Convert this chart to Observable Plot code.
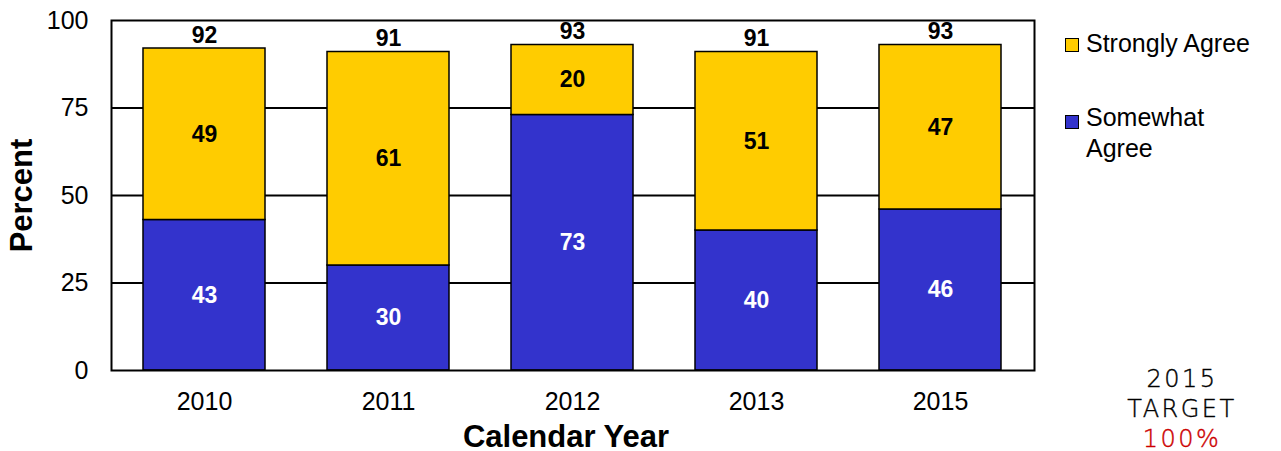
<!DOCTYPE html>
<html>
<head>
<meta charset="utf-8">
<script src="https://cdn.jsdelivr.net/npm/d3@7"></script>
<script src="https://cdn.jsdelivr.net/npm/@observablehq/plot@0.6"></script>
<style>
  html, body { margin: 0; padding: 0; background: #fff; }
  #wrap { position: relative; width: 1281px; height: 451px; overflow: hidden; font-family: "Liberation Sans", Arial, sans-serif; }
  #chart { position: absolute; left: 0; top: 0; }
  .leg { position: absolute; font-size: 25px; line-height: 31px; color: #000; }
  .sw { position: absolute; width: 12px; height: 12px; border: 1.5px solid #000; }
  #target { position: absolute; left: 1102px; width: 160px; top: 364px; text-align: center; font-family: "DejaVu Sans", sans-serif; font-weight: 200; font-size: 24px; line-height: 30px; color: #000; letter-spacing: 2.5px; -webkit-text-stroke: 0.4px #000; }
</style>
</head>
<body>
<div id="wrap">
  <div id="chart"></div>
  <div class="sw" style="left:1065px; top:38px; background:#FFCC00;"></div>
  <div class="leg" style="left:1086px; top:28px;">Strongly Agree</div>
  <div class="sw" style="left:1065px; top:115px; background:#3333CC;"></div>
  <div class="leg" style="left:1086px; top:102px;">Somewhat<br>Agree</div>
  <div id="target">2015<br>TARGET<br><span style="color:#CC0000; -webkit-text-stroke: 0.4px #CC0000;">100%</span></div>
</div>
<script>
const years = ["2010", "2011", "2012", "2013", "2015"];
const somewhatAgree = [43, 30, 73, 40, 46];
const stronglyAgree = [49, 61, 20, 51, 47];
const totals = [92, 91, 93, 91, 93];
const seriesNames = ["Somewhat Agree", "Strongly Agree"];
const seriesColors = ["#3333CC", "#FFCC00"];
const yTicks = [0, 25, 50, 75, 100];

const rows = [];
years.forEach((y, i) => {
  rows.push({year: y, series: seriesNames[0], value: somewhatAgree[i]});
  rows.push({year: y, series: seriesNames[1], value: stronglyAgree[i]});
});
const totalRows = years.map((y, i) => ({year: y, total: totals[i]}));

const chart = Plot.plot({
  width: 1281,
  height: 451,
  marginLeft: 111,
  marginRight: 247,
  marginTop: 20,
  marginBottom: 81,
  style: {fontFamily: "'Liberation Sans', Arial, sans-serif", background: "white", color: "black"},
  x: {domain: years, paddingInner: 0.336, paddingOuter: 0.168, label: null},
  y: {domain: [0, 100], label: null},
  color: {domain: seriesNames, range: seriesColors},
  marks: [
    Plot.gridY([25, 50, 75], {stroke: "black", strokeOpacity: 1, strokeWidth: 2}),
    Plot.barY(rows, {x: "year", y: "value", fill: "series", order: seriesNames, stroke: "black", strokeWidth: 1.5}),
    Plot.text(rows, Plot.stackY({
      x: "year", y: "value", order: seriesNames, text: d => String(d.value),
      fill: d => d.series === seriesNames[0] ? "white" : "black",
      fontWeight: "bold", fontSize: 23
    })),
    Plot.text(totalRows, {x: "year", y: "total", text: d => String(d.total), dy: -13, fontWeight: "bold", fontSize: 23, fill: "black"}),
    Plot.axisY({ticks: yTicks, tickSize: 0, tickPadding: 23, fontSize: 25, label: null}),
    Plot.axisX({tickSize: 0, tickPadding: 22, fontSize: 25, label: null}),
    Plot.text(["Percent"], {frameAnchor: "left", textAnchor: "middle", lineAnchor: "middle", dx: -89, rotate: -90, fontSize: 31, fontWeight: "bold", fill: "black"}),
    Plot.text(["Calendar Year"], {frameAnchor: "bottom", textAnchor: "middle", lineAnchor: "middle", dy: 67, dx: -7, fontSize: 31, fontWeight: "bold", fill: "black"}),
    Plot.frame({stroke: "black", strokeWidth: 2})
  ]
});
document.getElementById("chart").appendChild(chart);
</script>
</body>
</html>
